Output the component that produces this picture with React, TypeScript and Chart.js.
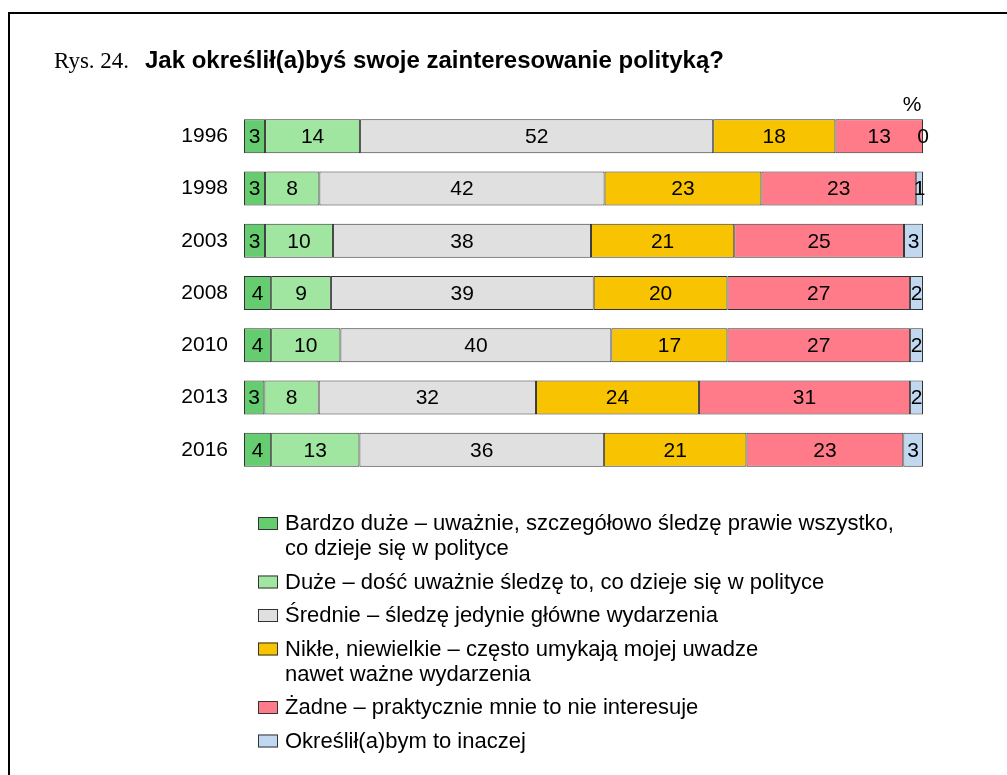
import React, { useEffect, useRef } from "react";
import { Chart, registerables } from "chart.js";
Chart.register(...registerables);

const years = ["1996", "1998", "2003", "2008", "2010", "2013", "2016"];
const bardzoDuze = [3.1, 3.1, 3.1, 4.0, 4.0, 3.0, 4.0];
const duze = [14.0, 8.0, 10.0, 8.8, 10.2, 8.0, 13.0];
const srednie = [52.0, 42.0, 38.0, 38.7, 39.9, 32.0, 36.0];
const nikle = [18.0, 23.1, 21.1, 19.7, 17.1, 24.0, 21.0];
const zadne = [12.9, 22.8, 25.0, 26.9, 26.9, 31.1, 23.1];
const inaczej = [0, 1.0, 2.8, 1.9, 1.9, 1.9, 2.9];

const seriesNames = [
  "Bardzo duże – uważnie, szczegółowo śledzę prawie wszystko,\nco dzieje się w polityce",
  "Duże – dość uważnie śledzę to, co dzieje się w polityce",
  "Średnie – śledzę jedynie główne wydarzenia",
  "Nikłe, niewielkie – często umykają mojej uwadze\nnawet ważne wydarzenia",
  "Żadne – praktycznie mnie to nie interesuje",
  "Określił(a)bym to inaczej",
];
const seriesColors = ["#66cc70", "#a0e6a0", "#e0e0e0", "#f8c300", "#ff7b89", "#c0d8f0"];
const seriesData = [bardzoDuze, duze, srednie, nikle, zadne, inaczej];

const titlePrefix = "Rys. 24.";
const titleText = "Jak określił(a)byś swoje zainteresowanie polityką?";
const unitLabel = "%";

const SANS = '"Liberation Sans", Arial, Helvetica, sans-serif';
const SERIF = '"Liberation Serif", "Times New Roman", serif';

const decorPlugin = {
  id: "decor",
  afterDraw(chart: any) {
    const ctx = chart.ctx as CanvasRenderingContext2D;
    ctx.save();
    // frame
    ctx.fillStyle = "#000";
    ctx.fillRect(8, 12, 2, 763);
    ctx.fillRect(8, 12, 999, 2);
    // title
    ctx.textBaseline = "alphabetic";
    ctx.textAlign = "left";
    ctx.font = `23px ${SERIF}`;
    ctx.fillText(titlePrefix, 54, 68);
    ctx.font = `bold 24px ${SANS}`;
    ctx.fillText(titleText, 145, 68);
    // unit
    ctx.font = `21px ${SANS}`;
    ctx.textAlign = "center";
    ctx.fillText(unitLabel, 912, 111);
    // value labels
    ctx.textBaseline = "middle";
    ctx.font = `21px ${SANS}`;
    chart.data.datasets.forEach((ds: any, di: number) => {
      const meta = chart.getDatasetMeta(di);
      meta.data.forEach((el: any, i: number) => {
        const v = ds.data[i];
        const cx = (el.x + el.base) / 2;
        ctx.fillStyle = "#000";
        ctx.fillText(String(Math.round(v)), cx, el.y + 1);
      });
    });
    // legend
    ctx.textAlign = "left";
    ctx.textBaseline = "alphabetic";
    ctx.font = `22px ${SANS}`;
    let baseline = 530;
    seriesNames.forEach((name, i) => {
      const lines = name.split("\n");
      ctx.fillStyle = seriesColors[i];
      ctx.fillRect(258, baseline - 13, 20, 13);
      ctx.strokeStyle = "#333";
      ctx.lineWidth = 1;
      ctx.strokeRect(258.5, baseline - 12.5, 19, 12);
      ctx.fillStyle = "#000";
      lines.forEach((ln, li) => {
        ctx.fillText(ln, 285, baseline + li * 25);
      });
      baseline += (lines.length - 1) * 25 + 33.5;
    });
    ctx.restore();
  },
};

export default function App() {
  const ref = useRef<HTMLCanvasElement | null>(null);
  useEffect(() => {
    if (!ref.current) return;
    const chart = new Chart(ref.current, {
      type: "bar",
      data: {
        labels: years,
        datasets: seriesData.map((d, i) => ({
          label: seriesNames[i],
          data: d,
          backgroundColor: seriesColors[i],
          borderColor: "#333",
          borderWidth: 1,
          borderSkipped: false,
          barPercentage: 0.65,
          categoryPercentage: 1,
        })),
      },
      plugins: [decorPlugin],
      options: {
        indexAxis: "y",
        responsive: false,
        devicePixelRatio: 1,
        animation: false,
        layout: { padding: { left: 144, right: 84, top: 110, bottom: 299 } },
        plugins: {
          legend: { display: false },
          tooltip: { enabled: false },
          title: { display: false },
        },
        scales: {
          x: { display: false, stacked: true, min: 0, max: 100 },
          y: {
            stacked: true,
            grid: { display: false, drawTicks: false },
            border: { display: false },
            ticks: { color: "#000", padding: 16, font: { size: 21, family: SANS } },
            afterFit: (scale: any) => {
              scale.width = 100;
            },
          },
        },
      },
    } as any);
    return () => chart.destroy();
  }, []);
  return (
    <div style={{ position: "absolute", left: 0, top: 0, width: 1007, height: 775, background: "#fff" }}>
      <canvas ref={ref} width={1007} height={775} style={{ display: "block" }} />
    </div>
  );
}
